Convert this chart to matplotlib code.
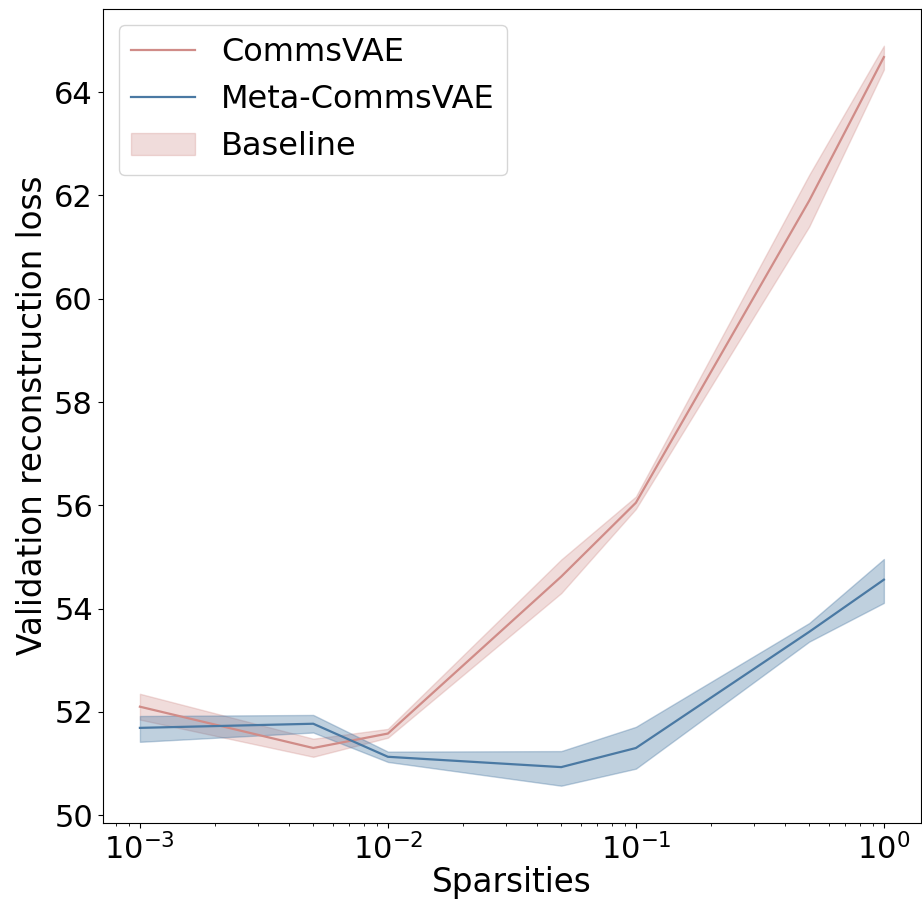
import matplotlib
matplotlib.use('Agg')
import matplotlib.pyplot as plt

sparsities = [1e-3, 5e-3, 1e-2, 5e-2, 1e-1, 5e-1, 1.0]

comms_mean = [52.10, 51.30, 51.58, 54.62, 56.05, 61.90, 64.68]
comms_low = [51.85, 51.13, 51.50, 54.30, 55.93, 61.40, 64.44]
comms_high = [52.35, 51.48, 51.67, 54.95, 56.17, 62.40, 64.90]

meta_mean = [51.69, 51.77, 51.13, 50.93, 51.30, 53.55, 54.56]
meta_low = [51.42, 51.60, 51.03, 50.57, 50.90, 53.36, 54.11]
meta_high = [51.92, 51.94, 51.23, 51.24, 51.71, 53.72, 54.96]

labels = ['CommsVAE', 'Meta-CommsVAE', 'Baseline']

red = '#d08c88'
blue = '#4a79a3'

fig, ax = plt.subplots(figsize=(9.22, 9.01), dpi=100)

l1, = ax.plot(sparsities, comms_mean, color=red, lw=1.6)
f1 = ax.fill_between(sparsities, comms_low, comms_high, color=red, alpha=0.3)
l2, = ax.plot(sparsities, meta_mean, color=blue, lw=1.6)
f2 = ax.fill_between(sparsities, meta_low, meta_high, color=blue, alpha=0.35)

ax.set_xscale('log')
ax.set_xlabel('Sparsities', fontsize=23.5, labelpad=1)
ax.set_ylabel('Validation reconstruction loss', fontsize=23.5)
ax.tick_params(labelsize=22)
ax.legend([l1, l2, f1], labels, loc='upper left', fontsize=23)

fig.subplots_adjust(left=0.1114, right=0.999, top=0.9903, bottom=0.0869)
fig.savefig('out.png')
